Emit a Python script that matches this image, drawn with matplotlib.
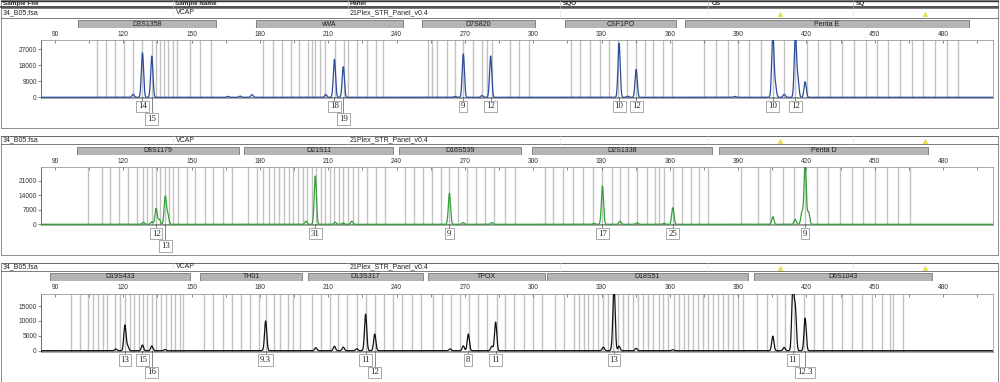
import numpy as np
import matplotlib
matplotlib.use("Agg")
import matplotlib.pyplot as plt
from matplotlib.patches import Rectangle
from matplotlib.transforms import blended_transform_factory

plt.rcParams['font.family'] = ['Liberation Sans', 'DejaVu Sans']

# -------- data --------
header_cols = ['Sample File', 'Sample Name', 'Panel', 'SQO', 'OS', 'SQ']
sample_file = '34_B05.fsa'
sample_name = 'VCAP'
panel_name = '21Plex_STR_Panel_v0.4'
size_ticks = [90, 120, 150, 180, 210, 240, 270, 300, 330, 360, 390, 420, 450, 480]

# panel 1 (blue dye)
markers1 = ['D3S1358', 'vWA', 'D7S820', 'CSF1PO', 'Penta E']
marker_start1 = [100.1, 178.3, 251.2, 314.0, 366.7]
marker_end1 = [160.7, 242.8, 300.8, 362.7, 491.4]
bins1 = [108.3, 112.4, 116.4, 120.3, 124.4, 128.3, 132.5, 134.4, 136.1, 137.9, 139.8, 141.7, 143.7,
         149.3, 153.7, 158.4,
         181.5, 185.6, 189.6, 193.5, 197.2, 201.2, 202.7, 204.2, 206.4, 208.6, 213.0, 216.9, 218.8,
         222.8, 226.9, 230.8, 234.2,
         253.7, 255.7, 257.9, 262.0, 265.7, 269.3, 273.7, 277.7, 279.6, 281.8, 289.8, 293.9, 298.3,
         316.5, 320.6, 325.0, 329.4, 333.4, 337.4, 341.1, 345.2, 349.1, 352.8, 356.9, 360.8,
         375.0, 380.3, 385.4, 390.0, 394.9, 399.9, 405.2, 410.2, 415.0, 420.1, 425.2, 430.4, 435.5,
         440.9, 446.0, 450.9, 456.0, 461.1, 466.2, 471.3, 476.5, 481.6, 486.7]
peak_bp1 = [124.3, 128.4, 132.5, 166.0, 171.3, 176.5, 208.9, 212.7, 216.6, 265.7, 269.3, 277.5,
            281.3, 337.7, 341.5, 345.2, 388.6, 405.2, 406.3, 410.2, 415.1, 416.2, 419.4]
peak_h1 = [1700, 25100, 23200, 500, 700, 1500, 1500, 21400, 17200, 500, 24400, 1000,
           23200, 30400, 600, 15700, 500, 36000, 7000, 1700, 36000, 10100, 8800]
allele_bp1 = [128.4, 132.5, 212.7, 216.6, 269.3, 281.3, 337.7, 345.2, 405.2, 415.1]
allele_txt1 = ['14', '15', '18', '19', '9', '12', '10', '12', '10', '12']
allele_row1 = [0, 1, 0, 1, 0, 0, 0, 0, 0, 0]
yticks1 = [0, 9000, 18000, 27000]

# panel 2 (green dye)
markers2 = ['D8S1179', 'D21S11', 'D16S539', 'D2S1338', 'Penta D']
marker_start2 = [99.7, 173.0, 241.0, 299.5, 381.6]
marker_end2 = [170.8, 238.4, 294.7, 378.5, 473.4]
bins2 = [104.6, 110.5, 114.2, 118.3, 122.2, 125.9, 128.5, 130.3, 132.5, 134.4, 136.1, 138.3, 140.2,
         142.0, 144.2, 147.8, 151.5, 155.9, 159.5, 163.9, 167.9,
         174.9, 178.6, 181.5, 184.1, 186.3, 188.5, 190.6, 192.9, 194.7, 196.9, 198.8, 200.5, 202.7,
         204.6, 206.7, 208.6, 210.8, 212.7, 214.9, 216.6, 218.8, 220.7, 223.2, 226.9, 231.0, 234.9,
         243.7, 247.8, 251.8, 255.4, 259.4, 263.2, 267.1, 271.1, 274.9, 278.8, 282.8, 287.6, 292.0,
         305.2, 308.8, 313.2, 317.6, 321.7, 326.1, 330.4, 334.5, 338.1, 341.8, 345.5, 349.9, 353.5,
         355.4, 357.6, 361.3, 365.2, 369.2, 373.0, 376.9,
         391.1, 398.9, 404.0, 409.6, 414.3, 419.4, 424.5, 429.6, 434.8, 439.9, 445.0, 450.1, 455.3,
         460.4, 465.5]
peak_bp2 = [128.8, 132.5, 134.4, 135.8, 138.4, 139.5, 200.2, 204.3, 213.0, 216.5, 220.3, 263.2,
            269.2, 281.8, 326.7, 330.4, 338.1, 345.6, 357.4, 361.3, 405.2, 415.0, 418.0, 419.4, 420.9]
peak_h2 = [1000, 1200, 7700, 2400, 13300, 4800, 1500, 23300, 1000, 700, 1500, 15000,
           800, 800, 500, 18500, 1500, 800, 500, 8000, 3700, 2400, 6000, 30000, 6000]
allele_bp2 = [134.4, 138.4, 204.3, 263.2, 330.4, 361.3, 419.4]
allele_txt2 = ['12', '13', '31', '9', '17', '25', '9']
allele_row2 = [0, 1, 0, 0, 0, 0, 0]
yticks2 = [0, 7000, 14000, 21000]

# panel 3 (black dye)
markers3 = ['D19S433', 'TH01', 'D13S317', 'TPOX', 'D18S51', 'D6S1043']
marker_start3 = [87.8, 153.7, 201.1, 253.8, 306.1, 397.0]
marker_end3 = [149.3, 198.5, 251.6, 305.2, 394.3, 475.2]
bins3 = [96.9, 101.0, 104.6, 106.8, 109.0, 110.9, 113.0, 116.4, 118.5, 120.7, 122.9, 124.8, 127.0,
         128.8, 130.6, 132.5, 134.4, 136.6, 138.7, 140.8, 142.7, 144.9, 146.4,
         155.4, 159.5, 163.6, 167.6, 171.5, 175.6, 179.7, 182.5, 186.2, 188.8, 192.5, 194.7, 197.6,
         203.0, 206.7, 210.8, 214.4, 218.4, 222.5, 226.4, 230.5, 234.5, 238.6, 242.5, 246.6, 250.6,
         255.9, 259.8, 263.8, 267.9, 271.8, 275.9, 279.9, 284.0, 287.6, 291.6, 296.0, 300.1, 303.7,
         309.6, 313.7, 317.9, 320.1, 322.3, 324.2, 326.4, 328.6, 330.8, 333.0, 335.2, 337.4, 339.6,
         341.8, 344.0, 346.2, 348.4, 350.6, 352.8, 355.1, 357.2, 359.4, 361.6, 363.8, 366.0, 368.1,
         370.3, 372.5, 374.7, 376.9, 379.1, 381.3, 383.5, 385.7, 387.9, 390.1, 392.3,
         398.2, 402.6, 407.0, 410.6, 414.3, 418.7, 423.1, 427.1, 431.1, 435.5, 439.9, 444.3, 448.7,
         453.1, 456.7, 458.2, 462.3]
peak_bp3 = [116.7, 120.7, 121.9, 128.4, 132.5, 138.3, 182.5, 204.5, 212.7, 216.6, 222.5, 226.4,
            230.4, 263.5, 269.3, 271.5, 281.8, 283.5, 330.8, 334.8, 335.5, 337.7, 345.2, 361.3,
            405.2, 410.2, 414.0, 415.1, 419.4]
peak_h3 = [600, 8600, 1500, 1900, 1600, 400, 10000, 1000, 1500, 1200, 700, 12300,
           5600, 600, 1600, 5600, 1500, 9600, 1200, 1200, 22000, 1500, 800, 300,
           4900, 1100, 22000, 13900, 10900]
allele_bp3 = [120.7, 128.4, 132.5, 182.5, 226.4, 230.4, 271.5, 283.5, 335.5, 414.0, 419.4]
allele_txt3 = ['13', '15', '16', '9.3', '11', '12', '8', '11', '13', '11', '12.3']
allele_row3 = [0, 0, 1, 0, 0, 1, 0, 0, 0, 0, 1]
yticks3 = [0, 5000, 10000, 15000]

# -------- layout (pixels) --------
W, H = 1000, 382
fig = plt.figure(figsize=(W / 100, H / 100), dpi=100)


def px_rect(x0, y0, x1, y1):
    return [x0 / W, 1 - y1 / H, (x1 - x0) / W, (y1 - y0) / H]


bg = fig.add_axes([0, 0, 1, 1])
bg.set_xlim(0, W)
bg.set_ylim(H, 0)
bg.axis('off')

col_x = [3, 175, 350, 563, 712, 856]
div_x = [173, 348, 560, 708, 853]
tri_x = [780, 925]

# top column header (panel 1 only)
bg.plot([1, 998], [0.6, 0.6], color='#333333', lw=1.0)
bg.plot([1, 998], [7.3, 7.3], color='#333333', lw=1.2)
for cx, name in zip(col_x, header_cols):
    bg.text(cx, 3.8, name, fontsize=4.6, fontweight='bold', va='center', ha='left', color='#222222')
for dx in div_x:
    bg.plot([dx, dx], [0.6, 7.3], color='#bbbbbb', lw=0.5)

panels = [
    dict(row=(8, 17.5), border=(0, 127.5), mrow=(20, 28), plot=(40, 98), ylim=(-400, 32230),
         yticks=yticks1, markers=markers1, ms=marker_start1, me=marker_end1, bins=bins1,
         pbp=peak_bp1, ph=peak_h1, abp=allele_bp1, atxt=allele_txt1, arow=allele_row1, color='#2b4d9b'),
    dict(row=(136, 144), border=(136, 254.5), mrow=(147, 155), plot=(167, 225), ylim=(-340, 27600),
         yticks=yticks2, markers=markers2, ms=marker_start2, me=marker_end2, bins=bins2,
         pbp=peak_bp2, ph=peak_h2, abp=allele_bp2, atxt=allele_txt2, arow=allele_row2, color='#34a03a'),
    dict(row=(262.5, 271), border=(262.5, 381.5), mrow=(273, 281), plot=(293.5, 351.5), ylim=(-270, 19200),
         yticks=yticks3, markers=markers3, ms=marker_start3, me=marker_end3, bins=bins3,
         pbp=peak_bp3, ph=peak_h3, abp=allele_bp3, atxt=allele_txt3, arow=allele_row3, color='#111111'),
]

XL = (83.85, 501.9)
xs = np.linspace(XL[0], XL[1], 8000)

for p in panels:
    r0, r1 = p['row']
    b0, b1 = p['border']
    # outer border and sample row
    bg.add_patch(Rectangle((1, b0), 997, b1 - b0, fill=False, ec='#777777', lw=0.6))
    bg.plot([1, 998], [r0, r0], color='#666666', lw=0.6)
    bg.plot([1, 998], [r1, r1], color='#666666', lw=0.6)
    for dx in div_x:
        bg.plot([dx, dx], [r0, r1], color='#dddddd', lw=0.4)
    ym = (r0 + r1) / 2
    bg.text(col_x[0], ym, sample_file, fontsize=5, va='center', ha='left', color='#222222')
    bg.text(col_x[1] + 1, ym, sample_name, fontsize=5, va='center', ha='left', color='#222222')
    bg.text(col_x[2], ym, panel_name, fontsize=5, va='center', ha='left', color='#222222')
    bg.scatter(tri_x, [ym + 0.8, ym + 0.8], marker='^', s=9, c='#e8e83a', edgecolors='#c9c900', linewidths=0.3)

    # marker bars
    m0, m1 = p['mrow']
    axm = fig.add_axes(px_rect(41, m0, 993, m1))
    axm.set_xlim(*XL)
    axm.set_ylim(0, 1)
    axm.axis('off')
    for name, s, e in zip(p['markers'], p['ms'], p['me']):
        axm.add_patch(Rectangle((s, 0.02), e - s, 0.96, fc='#b4b4b4', ec='#787878', lw=0.6))
        axm.text((s + e) / 2, 0.5, name, fontsize=5, ha='center', va='center', color='#1e1e1e')

    # electropherogram
    t0, t1 = p['plot']
    ax = fig.add_axes(px_rect(41, t0, 993, t1))
    ax.set_xlim(*XL)
    ax.set_ylim(*p['ylim'])
    for b in p['bins']:
        ax.axvline(b, color='#c2c2c2', lw=1.0, zorder=1)
    trace = np.zeros_like(xs)
    for c, h in zip(p['pbp'], p['ph']):
        trace += h * np.exp(-0.5 * ((xs - c) / 0.48) ** 2)
    ax.plot(xs, trace, color=p['color'], lw=0.9, zorder=3)
    ax.axhline(0, color='#444444', lw=0.4, zorder=2)

    ax.xaxis.tick_top()
    ax.set_xticks(size_ticks)
    ax.set_xticks(np.arange(105, 500, 15), minor=True)
    ax.tick_params(axis='x', which='both', direction='in', length=2, pad=1.5, labelsize=4.8,
                   colors='#555555', labelcolor='#333333', width=0.5)
    ax.set_yticks(p['yticks'])
    ax.set_yticklabels([str(v) for v in p['yticks']])
    ax.tick_params(axis='y', direction='out', length=2, pad=1, labelsize=4.8,
                   colors='#555555', labelcolor='#333333', width=0.5)
    for sp in ax.spines.values():
        sp.set_color('#9a9a9a')
        sp.set_linewidth(0.6)
    ax.spines['left'].set_color('#555555')

    # allele call labels
    hpx = t1 - t0
    tr = blended_transform_factory(ax.transData, ax.transAxes)
    for bp, txt, row in zip(p['abp'], p['atxt'], p['arow']):
        yc = -(8.5 if row == 0 else 21.0) / hpx
        ax.plot([bp, bp], [0.01, yc], color='#555555', lw=0.5, transform=tr, clip_on=False, zorder=4)
        ax.text(bp, yc, txt, transform=tr, ha='center', va='center', fontsize=6.3,
                family=['Liberation Serif', 'DejaVu Serif'], color='#222222', clip_on=False, zorder=5,
                bbox=dict(boxstyle='square,pad=0.22', fc='white', ec='#9a9a9a', lw=0.6))

fig.savefig('out.png', dpi=100)
